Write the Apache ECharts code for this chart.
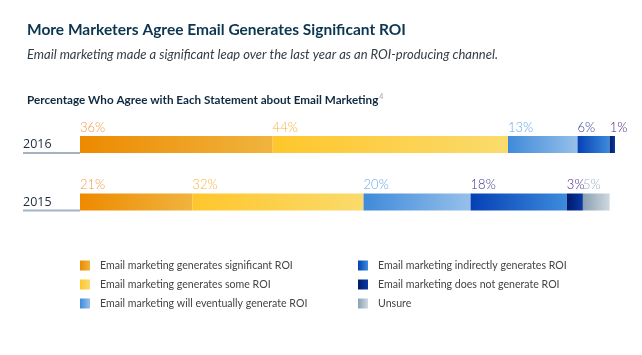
<!DOCTYPE html>
<html><head><meta charset="utf-8">
<script src="https://cdn.jsdelivr.net/npm/echarts@6/dist/echarts.min.js"></script>
<style>html,body{margin:0;padding:0;background:#fff}#c{width:642px;height:355px}</style>
</head><body><div id="c"></div>
<script>
const years = ['2016', '2015'];
const seriesNames = [
  'Email marketing generates significant ROI',
  'Email marketing generates some ROI',
  'Email marketing will eventually generate ROI',
  'Email marketing indirectly generates ROI',
  'Email marketing does not generate ROI',
  'Unsure'
];
const significant = [36, 21];
const some = [44, 32];
const eventually = [13, 20];
const indirectly = [6, 18];
const notGenerate = [1, 3];
const unsure = [0, 5];
const values = [significant, some, eventually, indirectly, notGenerate, unsure];
const gradients = [
  ['#ed8a00', '#f0b43e'],
  ['#ffc62c', '#fadb6c'],
  ['#3f8ada', '#96c0ea'],
  ['#0540b5', '#3d8cdc'],
  ['#001a6a', '#0a3aa5'],
  ['#8aa0b2', '#d0d9e0']
];
const labelColors = ['#f39a45', '#f7b53c', '#6aa5e6', '#3a3a9a', '#4a2a80', '#9ab0c4'];

const FONT = 'Lato, "Open Sans", sans-serif';
const chart = echarts.init(document.getElementById('c'));

const series = seriesNames.map((name, i) => ({
  name: name,
  type: 'bar',
  stack: 'all',
  barWidth: 17,
  data: values[i].map(v => v === 0 ? null : v),
  itemStyle: {
    color: new echarts.graphic.LinearGradient(0, 0, 1, 0, [
      { offset: 0, color: gradients[i][0] },
      { offset: 1, color: gradients[i][1] }
    ])
  },
  label: {
    show: true,
    position: [0, -15],
    formatter: '{c}%',
    color: labelColors[i],
    fontFamily: FONT,
    fontSize: 13,
    fontWeight: 300
  },
  emphasis: { disabled: true },
  animation: false
}));

chart.setOption({
  animation: false,
  title: [
    { text: 'More Marketers Agree Email Generates Significant ROI', left: 22, top: 17,
      textStyle: { fontFamily: FONT, fontSize: 15.5, fontWeight: 'bold', color: '#0c3550' } },
    { text: 'Email marketing made a significant leap over the last year as an ROI-producing channel.', left: 22, top: 43,
      textStyle: { fontFamily: FONT, fontSize: 13, fontStyle: 'italic', fontWeight: 'normal', color: '#333d45' } },
    { text: '{a|Percentage Who Agree with Each Statement about Email Marketing}{s|4}', left: 22, top: 88,
      textStyle: { rich: {
        a: { fontFamily: FONT, fontSize: 11.7, fontWeight: 'bold', color: '#0f2a40' },
        s: { fontFamily: FONT, fontSize: 7, color: '#b0b8c0', verticalAlign: 'top', padding: [0, 0, 7, 1] }
      } } }
  ],
  grid: { left: 80, right: 27, top: 115.75, height: 115 },
  xAxis: { type: 'value', min: 0, max: 100, show: false },
  yAxis: {
    type: 'category', data: years, inverse: true,
    axisLine: { show: false }, axisTick: { show: false },
    axisLabel: { align: 'left', margin: 57, fontFamily: '"Open Sans", sans-serif', fontSize: 12.5, color: '#1c2c3e' }
  },
  legend: [
    { data: seriesNames.slice(0, 3), orient: 'vertical', left: 80, top: 260, itemGap: 8, padding: 0,
      itemWidth: 10, itemHeight: 10, icon: 'rect',
      textStyle: { fontFamily: FONT, fontSize: 10.6, color: '#444', padding: [0, 0, 0, 5] } },
    { data: seriesNames.slice(3), orient: 'vertical', left: 358, top: 260, itemGap: 8, padding: 0,
      itemWidth: 10, itemHeight: 10, icon: 'rect',
      textStyle: { fontFamily: FONT, fontSize: 10.6, color: '#444', padding: [0, 0, 0, 5] } }
  ],
  series: series
});

const lines = years.map(y => {
  const py = chart.convertToPixel({ yAxisIndex: 0 }, y);
  return { type: 'line', shape: { x1: 23, y1: py + 8.5, x2: 80, y2: py + 8.5 },
           style: { stroke: '#a3b3c3', lineWidth: 2 }, silent: true };
});
chart.setOption({ graphic: lines });
</script></body></html>
